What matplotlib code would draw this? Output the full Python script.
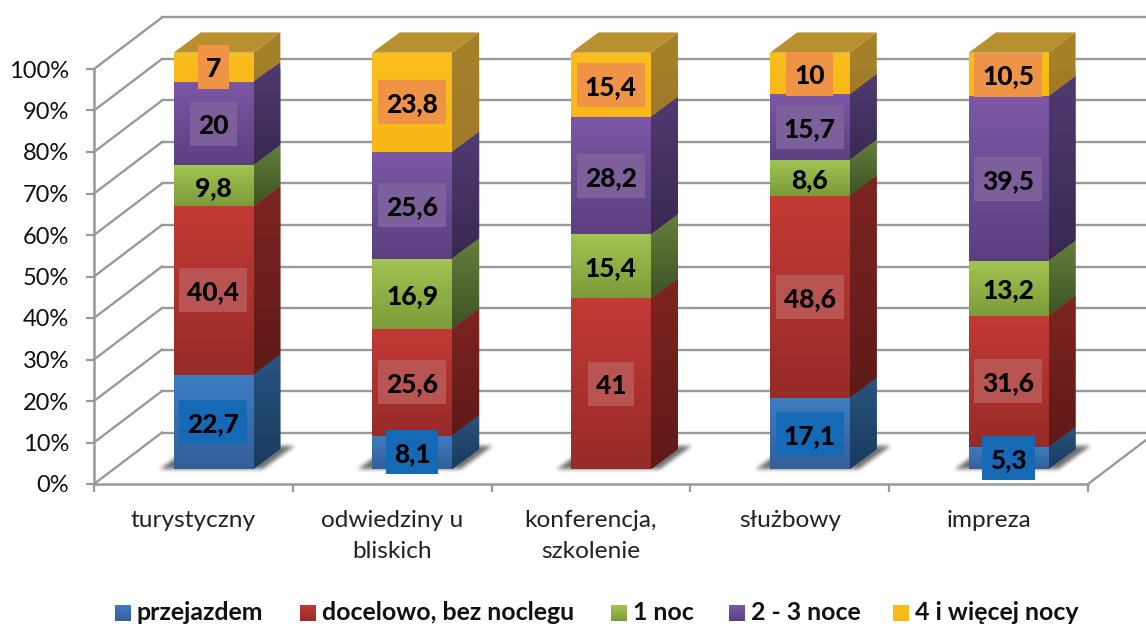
import numpy as np
import matplotlib
matplotlib.use("Agg")
import matplotlib.pyplot as plt
from matplotlib.colors import to_rgb
from matplotlib.patches import Polygon, Rectangle

plt.rcParams['font.family'] = ['Lato', 'DejaVu Sans']

# dane
categories = ["turystyczny", "odwiedziny u\nbliskich", "konferencja,\nszkolenie", "służbowy", "impreza"]
series_names = ["przejazdem", "docelowo, bez noclegu", "1 noc", "2 - 3 noce", "4 i więcej nocy"]
przejazdem = [22.7, 8.1, 0, 17.1, 5.3]
docelowo = [40.4, 25.6, 41, 48.6, 31.6]
jedna_noc = [9.8, 16.9, 15.4, 8.6, 13.2]
dwie_trzy_noce = [20, 25.6, 28.2, 15.7, 39.5]
cztery_noce = [7, 23.8, 15.4, 10, 10.5]
y_ticks = [0, 10, 20, 30, 40, 50, 60, 70, 80, 90, 100]

values = np.array([przejazdem, docelowo, jedna_noc, dwie_trzy_noce, cztery_noce], dtype=float)

# kolory: front (gora, dol), bok (gora, dol), etykieta (zielone bez tla)
front_colors = [("#3f7cc2", "#335f98"), ("#c33a35", "#962b28"), ("#a2c452", "#7c9b39"),
                ("#7b58a6", "#5b4080"), ("#f9bd1c", "#f8b918")]
side_colors = [("#28547f", "#1a3a60"), ("#7e2522", "#5e1a18"), ("#64803a", "#3e5226"),
               ("#503b72", "#392950"), ("#a68029", "#a07a28")]
label_colors = ["#1569b5", "#b85451", None, "#7d5f9b", "#ef9347"]
TOP_COLOR = "#b99030"
GRID = "#999999"

W, H = 1146, 624
X0, X1, Y0, Y100 = 94, 1088, 484, 69
CAT_W = (X1 - X0) / 5
PCT = (Y0 - Y100) / 100
# glebokosc sciany i slupka w pikselach
WALL_DX, WALL_DY = 68 / CAT_W, 51.5 / PCT
BAR_DX, BAR_DY = 27.3 / CAT_W, 20.3 / PCT
BAR_SHIFT, BAR_W = 0.1, 0.4
BAR_BASE = 14.7 / PCT
BAR_SCALE = 416.6 / 415


def grad_img(top, bottom):
    t = np.linspace(0, 1, 64)[:, None, None]
    return (1 - t) * np.array(to_rgb(top)) + t * np.array(to_rgb(bottom))


def gradient(patch, top, bottom, zorder):
    if isinstance(patch, Rectangle):
        x, y = patch.get_x(), patch.get_y()
        x0, x1, y0, y1 = x, x + patch.get_width(), y, y + patch.get_height()
    else:
        xy = patch.get_xy()
        x0, x1, y0, y1 = xy[:, 0].min(), xy[:, 0].max(), xy[:, 1].min(), xy[:, 1].max()
    im = ax.imshow(grad_img(top, bottom), extent=(x0, x1, y0, y1), aspect="auto", origin="upper", zorder=zorder)
    im.set_clip_path(patch)


# rozmyty cien: rownoleglobok w pikselach, rozmyty pudelkowo
def soft_shadow(xl, xr, base):
    bar_px = (xr - xl) * CAT_W
    pad = 30
    u = np.arange(-pad, bar_px + 60 + pad)
    v = np.arange(-8, 34)
    uu, vv = np.meshgrid(u, v)
    mask = ((vv >= 0) & (vv <= 23) & (uu >= -14 + vv * 1.34) & (uu <= bar_px + 10 + vv * 1.34)).astype(float)
    kernel = np.ones(5) / 5
    for _ in range(2):
        mask = np.apply_along_axis(lambda r: np.convolve(r, kernel, mode="same"), 1, mask)
        mask = np.apply_along_axis(lambda c: np.convolve(c, kernel, mode="same"), 0, mask)
    img = np.zeros(mask.shape + (4,))
    img[..., :3] = to_rgb("#555555")
    img[..., 3] = mask * 0.85
    ext = (xl + u[0] / CAT_W, xl + u[-1] / CAT_W, base + v[0] / PCT, base + v[-1] / PCT)
    ax.imshow(img, extent=ext, aspect="auto", origin="lower", zorder=2, clip_on=False)


fig = plt.figure(figsize=(W / 100, H / 100), dpi=100, facecolor="white")
ax = fig.add_axes([X0 / W, (H - Y0) / H, (X1 - X0) / W, (Y0 - Y100) / H])
ax.set_facecolor("none")

# siatka 3D
for t in y_ticks:
    ax.plot([0, WALL_DX], [t, t + WALL_DY], color=GRID, lw=1.7, clip_on=False, zorder=1)
    ax.plot([WALL_DX, 5.4], [t + WALL_DY, t + WALL_DY], color=GRID, lw=1.7, clip_on=False, zorder=1)
ax.plot([5, 5 + WALL_DX], [0, WALL_DY], color=GRID, lw=1.7, clip_on=False, zorder=1)

x_pos = np.arange(5) + 0.5 + BAR_SHIFT
totals = values.sum(axis=0)

# cien pod slupkami
for x in x_pos:
    soft_shadow(x - BAR_W / 2, x + BAR_W / 2, BAR_BASE)

# slupki
bottom = np.full(5, BAR_BASE)
for s in range(len(series_names)):
    heights = values[s] / totals * 100 * BAR_SCALE
    bars = ax.bar(x_pos, heights, BAR_W, bottom=bottom, color=front_colors[s][0], linewidth=0, zorder=4, clip_on=False)
    for i, bar in enumerate(bars):
        if heights[i] == 0:
            continue
        gradient(bar, front_colors[s][0], front_colors[s][1], 4.5)
        xr = x_pos[i] + BAR_W / 2
        b, h = bottom[i], heights[i]
        side = Polygon([(xr, b), (xr + BAR_DX, b + BAR_DY), (xr + BAR_DX, b + h + BAR_DY), (xr, b + h)],
                       closed=True, fc=side_colors[s][0], ec="none", zorder=3, clip_on=False)
        ax.add_patch(side)
        gradient(side, side_colors[s][0], side_colors[s][1], 3.5)
    bottom = bottom + heights

for i, x in enumerate(x_pos):
    xl, xr, yt = x - BAR_W / 2, x + BAR_W / 2, bottom[i]
    ax.add_patch(Polygon([(xl, yt), (xr, yt), (xr + BAR_DX, yt + BAR_DY), (xl + BAR_DX, yt + BAR_DY)],
                         closed=True, fc=TOP_COLOR, ec="none", zorder=4, clip_on=False))

# etykiety danych
renderer = fig.canvas.get_renderer()
bottom = np.full(5, BAR_BASE)
for s in range(len(series_names)):
    heights = values[s] / totals * 100 * BAR_SCALE
    for i, x in enumerate(x_pos):
        if values[s][i] == 0:
            continue
        yc = bottom[i] + heights[i] / 2
        txt = ax.text(x, yc, f"{values[s][i]:g}".replace(".", ","), ha="center", va="center_baseline",
                      fontsize=19, fontweight="black", color="black", zorder=7, clip_on=False)
        if label_colors[s] is None:
            continue
        tw = txt.get_window_extent(renderer).width / CAT_W
        box_w = tw + 16 / CAT_W
        ax.add_patch(Rectangle((x - box_w / 2, yc - 22 / PCT), box_w, 44 / PCT, fc=label_colors[s], ec="none",
                               zorder=6, clip_on=False))
    bottom = bottom + heights

# osie
ax.set_xlim(0, 5)
ax.set_ylim(0, 100)
for name in ["top", "right"]:
    ax.spines[name].set_visible(False)
for name in ["left", "bottom"]:
    ax.spines[name].set_color(GRID)
    ax.spines[name].set_linewidth(1.8)
    ax.spines[name].set_zorder(2)
ax.set_yticks(y_ticks)
ax.set_yticklabels([f"{t}%" for t in y_ticks])
ax.set_xticks(range(6))
ax.set_xticklabels([])
ax.set_xticks(np.arange(5) + 0.5, minor=True)
ax.set_xticklabels(categories, minor=True, linespacing=1.58)
ax.tick_params(axis="y", length=6, width=1.6, color=GRID, labelsize=17, labelcolor="#111111", pad=12)
ax.tick_params(axis="x", which="major", length=6, width=1.6, color=GRID)
ax.tick_params(axis="x", which="minor", length=0, labelsize=17.6, labelcolor="#222222", pad=19)

# legenda
legend_x = [115, 300, 611, 729, 893]
for s, name in enumerate(series_names):
    lax = fig.add_axes([legend_x[s] / W, (H - 621) / H, 16 / W, 16 / H])
    lax.imshow(grad_img(*front_colors[s]), aspect="auto")
    lax.axis("off")
    fig.text((legend_x[s] + 22) / W, (H - 610) / H, name, ha="left", va="center_baseline",
             fontsize=17.9, fontweight="bold", color="#111111")

fig.savefig("out.png", dpi=100)
